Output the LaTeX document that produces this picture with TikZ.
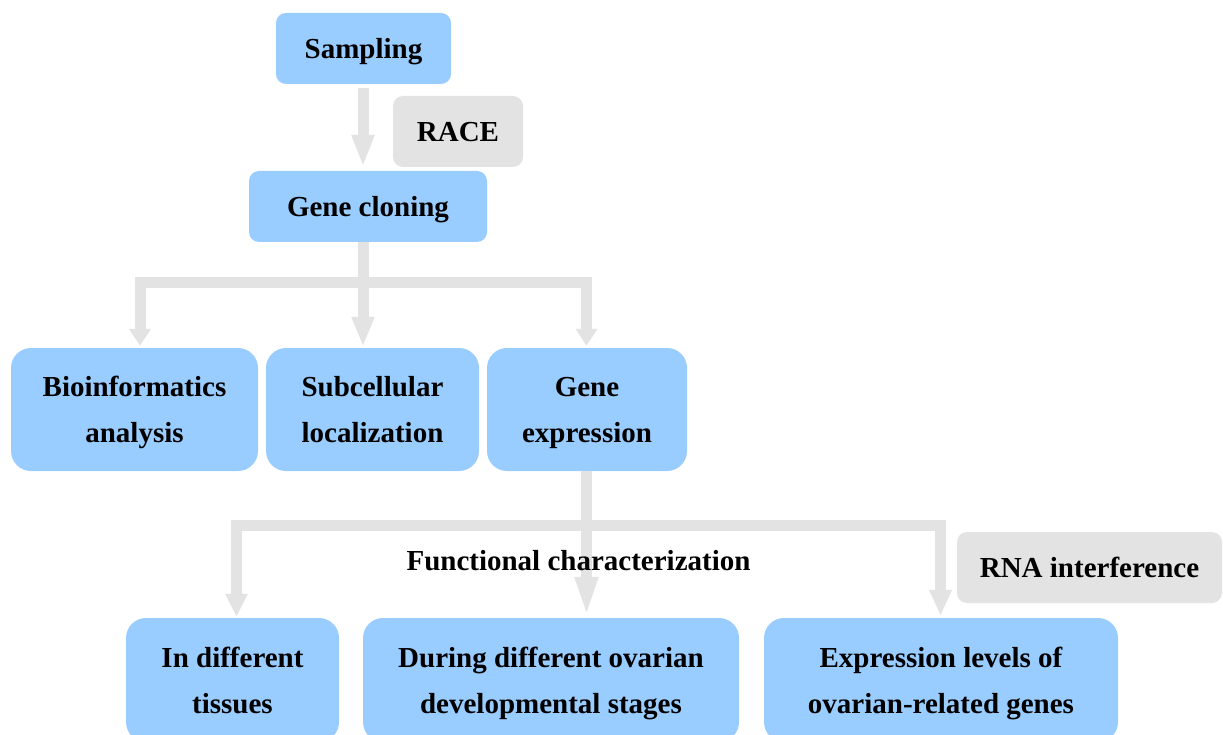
\documentclass[tikz,border=0pt]{standalone}
\usepackage{fontspec}
\setmainfont{Liberation Serif}
\usetikzlibrary{arrows.meta,calc}
\definecolor{boxblue}{HTML}{99CCFF}
\definecolor{lgray}{HTML}{E3E3E3}
\begin{document}
\begin{tikzpicture}[x=1pt,y=-1pt,
  flowbox/.style={fill=boxblue, draw=none, rounded corners=#1, align=center,
    inner sep=0pt, text depth=0pt, font=\bfseries\fontsize{29}{46}\selectfont},
  flowbox/.default=10pt,
  graybox/.style={fill=lgray, draw=none, rounded corners=10pt, align=center,
    inner sep=0pt, text depth=0pt, font=\bfseries\fontsize{29}{46}\selectfont},
  plain/.style={align=center, inner sep=0pt, font=\bfseries\fontsize{29}{46}\selectfont},
  conn/.style={draw=lgray, line width=11pt, line join=miter},
  tip/.style={-{Triangle[length=#1,width=21pt]}},
]
\useasboundingbox (0,0) rectangle (1223,735);
\clip (0,0) rectangle (1223,735);

% nodes
\node[flowbox, minimum width=175pt, minimum height=71pt] (samp) at (363.5,48.5) {Sampling};
\node[graybox, minimum width=130pt, minimum height=71pt] (race) at (458,131.5) {RACE};
\node[flowbox, minimum width=238pt, minimum height=71pt] (gc) at (368,206.5) {Gene cloning};

\node[flowbox=20pt, minimum width=247pt, minimum height=123pt] (bio) at (134.5,409.5) {Bioinformatics\\analysis};
\node[flowbox=20pt, minimum width=213pt, minimum height=123pt] (sub) at (372.5,409.5) {Subcellular\\localization};
\node[flowbox=20pt, minimum width=200pt, minimum height=123pt] (gexp) at (587,409.5) {Gene\\expression};

\node[graybox, minimum width=265pt, minimum height=71pt] (rna) at (1089.5,567.5) {RNA interference};

\node[flowbox=20pt, minimum width=213pt, minimum height=124pt] (tis) at (232.5,680) {In different\\tissues};
\node[flowbox=20pt, minimum width=376pt, minimum height=124pt] (dur) at (551,680) {During different ovarian\\developmental stages};
\node[flowbox=20pt, minimum width=354pt, minimum height=124pt] (expl) at (941,680) {Expression levels of\\ovarian-related genes};

% junctions
\coordinate (j1) at (363,283);
\coordinate (j2) at (586.5,525.5);

% connectors
\draw[conn, tip=32pt, shorten <=4pt, shorten >=4pt] (samp.south -| j1) -- (gc.north -| j1);

\draw[conn, tip=17pt, shorten >=2pt] (gc.south -| j1) -- (j1) -| ([xshift=5.5pt]bio.north);
\draw[conn, tip=30pt, shorten >=1pt] (gc.south -| j1) -- (sub.north -| j1);
\draw[conn, tip=17pt, shorten >=2pt] (j1) -| (gexp.north -| 586.5,0);

\draw[conn, tip=23pt, shorten >=1pt] (gexp.south -| j2) -- (j2) -| ([xshift=4pt]tis.north);
\draw[conn, tip=40pt, shorten >=1pt] (gexp.south -| j2) -- (dur.north -| j2);
\draw[conn, tip=26pt, shorten >=2pt] (j2) -| ([xshift=-0.5pt]expl.north);

% label drawn over the connector
\node[plain, anchor=base] (func) at (578.5,570) {Functional characterization};
\end{tikzpicture}
\end{document}
